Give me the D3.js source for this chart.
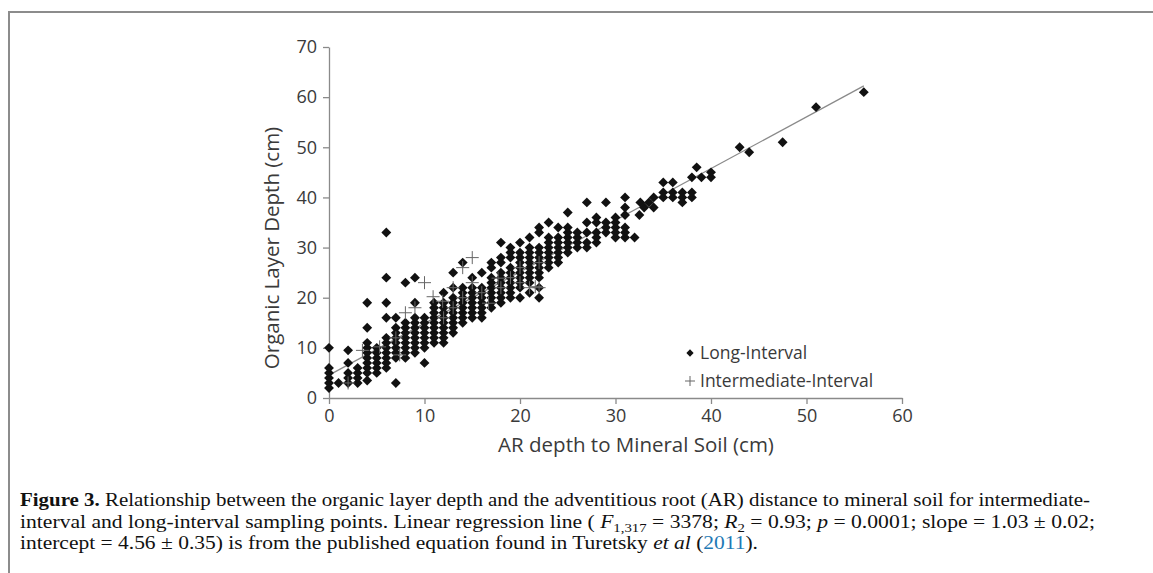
<!DOCTYPE html>
<html>
<head>
<meta charset="utf-8">
<script src="https://cdn.jsdelivr.net/npm/d3@7"></script>
<style>
body{margin:0;background:#fff;}
svg{display:block;}
.cap{font-family:"Liberation Serif","Times New Roman",serif;}
</style>
</head>
<body>
<svg id="graph"></svg>
<script>
// long-interval points, [AR depth, organic layer depth]
var longInterval=[
[0,2],[0,3],[0,4],[0,5],[0,6],[0,10],[1,3],
[2,3],[2,4],[2,5],[2,7],[2,9.5],
[3,3],[3,4],[3,5],[3,6],
[4,3.5],[4,5],[4,6],[4,7],[4,8],[4,9],[4,10],[4,11],[4,14],[4,19],
[5,5],[5,6],[5,7],[5,8],[5,9],[5,10],
[6,6],[6,7],[6,8],[6,9],[6,10],[6,11],[6,12],[6,16],[6,19],[6,24],[6,33],
[7,3],[7,8],[7,9],[7,10],[7,11],[7,12],[7,13],[7,14],[7,16],
[8,8],[8,9],[8,10],[8,11],[8,12],[8,13],[8,14],[8,15],[8,23],
[9,9],[9,10],[9,11],[9,12],[9,13],[9,14],[9,15],[9,16],[9,19],[9,24],
[10,7],[10,10],[10,11],[10,12],[10,13],[10,14],[10,15],[10,16],
[11,11],[11,12],[11,13],[11,14],[11,15],[11,16],[11,17],[11,18],[11,19],
[12,11],[12,12],[12,13],[12,14],[12,15],[12,16],[12,17],[12,18],[12,19],[12,21],
[13,13],[13,14],[13,15],[13,16],[13,17],[13,18],[13,19],[13,20],[13,22],[13,25],
[14,15],[14,16],[14,17],[14,18],[14,19],[14,20],[14,21],[14,22],[14,27],
[15,16],[15,17],[15,18],[15,19],[15,20],[15,21],[15,22],[15,24],
[16,16],[16,17],[16,18],[16,19],[16,20],[16,21],[16,22],[16,25],
[17,18],[17,19],[17,20],[17,21],[17,22],[17,23],[17,24],[17,26],[17,27],
[18,19],[18,20],[18,21],[18,22],[18,23],[18,24],[18,25],[18,27],[18,28],[18,31],
[19,20],[19,21],[19,22],[19,23],[19,24],[19,25],[19,26],[19,28],[19,29],[19,30],
[20,20],[20,22],[20,23],[20,24],[20,25],[20,26],[20,27],[20,28],[20,29],[20,31],
[21,21],[21,23],[21,24],[21,25],[21,26],[21,27],[21,28],[21,29],[21,30],[21,32],
[22,20],[22,22],[22,24],[22,25],[22,26],[22,27],[22,28],[22,29],[22,30],[22,33],[22,34],
[23,26],[23,27],[23,28],[23,29],[23,30],[23,31],[23,32],[23,35],
[24,27],[24,28],[24,29],[24,30],[24,31],[24,32],[24,34],
[25,29],[25,30],[25,31],[25,32],[25,33],[25,34],[25,37],
[26,30],[26,31],[26,32],[26,33],
[27,30],[27,31],[27,33],[27,35],[27,39],
[28,31],[28,32],[28,33],[28,35],[28,36],
[29,33],[29,34],[29,35],[29,39],
[30,32],[30,33],[30,34],[30,35],[30,36],
[31,32],[31,33],[31,34],[31,36.5],[31,38],[31,40],
[32,32],[32.5,36.5],[32.6,39],
[33,38],[33.5,39],[34,38],[34,40],
[35,40],[35,41],[35,43],[36,40],[36,41],[36,43],
[37,39],[37,40],[37,41],[38,40],[38,41],[38,44],[38.5,46],
[39,44],[40,44],[40,45],[43,50],[44,49],[47.5,51],[51,58],[56,61]
];
// intermediate-interval points
var intermediateInterval=[
[2,3],[3.5,9.5],[5.3,10.2],[7.4,8.6],[7,12],[8,17],[9,18],[10,23],
[10.9,20.2],[11.9,19.3],[12,16],[13,22],[13,18],[14,26],[14,20],[15,28],
[15,23],[16,21],[16.7,18.9],[17.7,23.9],[18,22],[19,24],[20,23],[20,26],
[21,22],[21.6,22.2],[22,22],[22,27]
];
var xTicks=[0,10,20,30,40,50,60];
var yTicks=[0,10,20,30,40,50,60,70];
var slope=1.03, intercept=4.56, lineEnd=56;
var seriesNames=["Long-Interval","Intermediate-Interval"];

var screen={width:1153,height:573};
var svg=d3.select("#graph")
    .attr("width",screen.width)
    .attr("height",screen.height);

// outer frame
svg.append("rect")
    .attr("x",9).attr("y",12)
    .attr("width",1200).attr("height",700)
    .attr("fill","none").attr("stroke","#8c8c8c").attr("stroke-width",2);

var xScale=d3.scaleLinear().domain([0,60]).range([329,902]);
var yScale=d3.scaleLinear().domain([0,70]).range([398,47]);

var axisColor="#8a8a8a";
var sans="Open Sans";

var xAxis=svg.append("g")
    .attr("transform","translate(0,"+yScale(0)+")")
    .call(d3.axisBottom(xScale).tickValues(xTicks).tickSize(6).tickSizeOuter(0).tickPadding(5));
var yAxis=svg.append("g")
    .attr("transform","translate("+xScale(0)+",0)")
    .call(d3.axisLeft(yScale).tickValues(yTicks).tickSize(6).tickSizeOuter(0).tickPadding(6));

[xAxis,yAxis].forEach(function(ax){
    ax.select(".domain").attr("stroke",axisColor).attr("stroke-width",1.3);
    ax.selectAll(".tick line").attr("stroke",axisColor).attr("stroke-width",1.3);
    ax.selectAll(".tick text").attr("fill","#3a3a3a").attr("font-family",sans).attr("font-size",18);
});

// regression line
svg.append("line")
    .attr("x1",xScale(0)).attr("y1",yScale(intercept))
    .attr("x2",xScale(lineEnd)).attr("y2",yScale(intercept+slope*lineEnd))
    .attr("stroke","#8a8a8a").attr("stroke-width",1.3);

var diamond=d3.symbol().type(d3.symbolDiamond2).size(62);

svg.append("g").selectAll("path")
    .data(longInterval)
    .enter()
    .append("path")
    .attr("d",diamond)
    .attr("transform",function(d){return "translate("+xScale(d[0])+","+yScale(d[1])+")"})
    .attr("fill","#111");

var plus="M-6.5,0H6.5M0,-6.5V6.5";
svg.append("g").selectAll("path")
    .data(intermediateInterval)
    .enter()
    .append("path")
    .attr("d",plus)
    .attr("transform",function(d){return "translate("+xScale(d[0])+","+yScale(d[1])+")"})
    .attr("fill","none").attr("stroke","#666").attr("stroke-width",1);

// axis titles
svg.append("text")
    .attr("x",636).attr("y",452)
    .attr("text-anchor","middle")
    .attr("font-family",sans).attr("font-size",20.5).attr("fill","#3a3a3a")
    .text("AR depth to Mineral Soil (cm)");
svg.append("text")
    .attr("transform","translate(279,248) rotate(-90)")
    .attr("text-anchor","middle")
    .attr("font-family",sans).attr("font-size",20.5).attr("fill","#3a3a3a")
    .text("Organic Layer Depth (cm)");

// legend
var legend=svg.append("g");
legend.append("path")
    .attr("d",d3.symbol().type(d3.symbolDiamond2).size(34))
    .attr("transform","translate(690,353)").attr("fill","#111");
legend.append("path")
    .attr("d","M-5,0H5M0,-5V5")
    .attr("transform","translate(690,381)")
    .attr("fill","none").attr("stroke","#666").attr("stroke-width",1);
legend.selectAll("text")
    .data(seriesNames)
    .enter()
    .append("text")
    .attr("x",700)
    .attr("y",function(d,i){return 359+i*28})
    .attr("font-family",sans).attr("font-size",17.5).attr("fill","#3a3a3a")
    .text(function(d){return d});

// caption
var cap=svg.append("g")
    .attr("class","cap")
    .attr("font-size",19).attr("fill","#111");

var l1=cap.append("text").attr("x",20).attr("y",506)
    .attr("textLength",1070).attr("lengthAdjust","spacingAndGlyphs");
l1.append("tspan").attr("font-weight","bold").text("Figure 3. ");
l1.append("tspan").text("Relationship between the organic layer depth and the adventitious root (AR) distance to mineral soil for intermediate-");

var l2=cap.append("text").attr("x",20).attr("y",528)
    .attr("textLength",1075).attr("lengthAdjust","spacingAndGlyphs");
l2.append("tspan").text("interval and long-interval sampling points. Linear regression line ( ");
l2.append("tspan").attr("font-style","italic").text("F");
l2.append("tspan").attr("font-size",13).attr("dy",4).text("1,317");
l2.append("tspan").attr("dy",-4).text(" = 3378; ");
l2.append("tspan").attr("font-style","italic").text("R");
l2.append("tspan").attr("font-size",13).attr("dy",4).text("2");
l2.append("tspan").attr("dy",-4).text(" = 0.93; ");
l2.append("tspan").attr("font-style","italic").text("p");
l2.append("tspan").text(" = 0.0001; slope = 1.03 \u00b1 0.02;");

var l3=cap.append("text").attr("x",20).attr("y",549)
    .attr("textLength",738).attr("lengthAdjust","spacingAndGlyphs");
l3.append("tspan").text("intercept = 4.56 \u00b1 0.35) is from the published equation found in Turetsky ");
l3.append("tspan").attr("font-style","italic").text("et al");
l3.append("tspan").text(" (");
l3.append("tspan").attr("fill","#1f7ab5").text("2011");
l3.append("tspan").text(").");
</script>
</body>
</html>
